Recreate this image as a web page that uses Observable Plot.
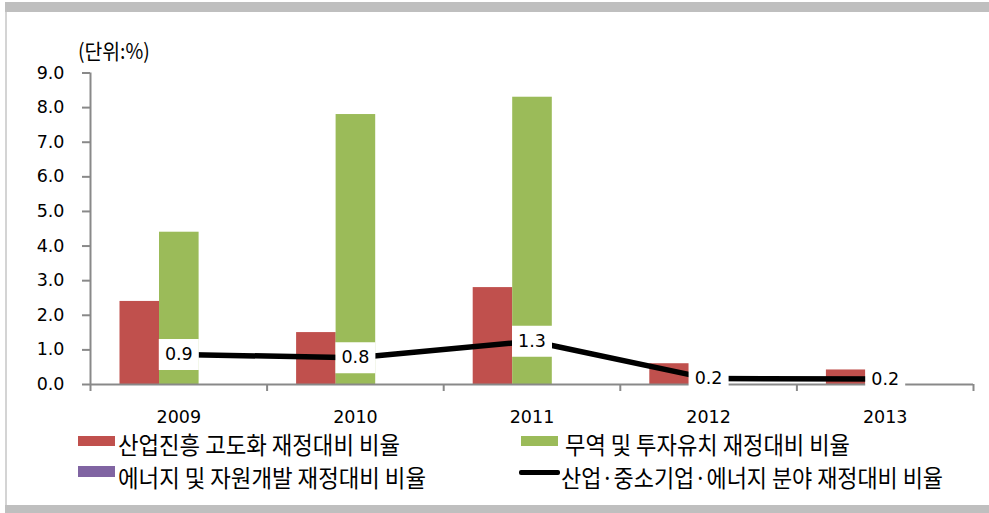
<!DOCTYPE html>
<html>
<head>
<meta charset="utf-8">
<script src="https://cdn.jsdelivr.net/npm/d3@7"></script>
<script src="https://cdn.jsdelivr.net/npm/@observablehq/plot@0.6"></script>
<style>
  body { margin: 0; background: #fff; }
  #wrap { position: relative; width: 989px; height: 513px; background: #fff; overflow: hidden; }
  .band { position: absolute; background: #bfbfbf; }
  #chart { position: absolute; left: 0; top: 0; }
  .unit { position: absolute; left: 78px; top: 35px; font: 21px "Noto Sans CJK KR", sans-serif; color: #000; white-space: nowrap; transform: scaleX(0.92); transform-origin: left center; }
  .leg { position: absolute; font: 24px "Noto Sans CJK KR", sans-serif; color: #000; white-space: nowrap; line-height: 1; transform-origin: left center; }
  .sw { position: absolute; }
</style>
</head>
<body>
<div id="wrap">
  <div class="band" style="left:5px;top:2px;width:984px;height:10px"></div>
  <div class="band" style="left:5px;top:12px;width:2px;height:493px;background:#d4d4d4"></div>
  <div class="band" style="left:5px;top:505px;width:984px;height:8px"></div>
  <div id="chart"></div>
</div>
<script>
// ---- data ----
const years = [2009, 2010, 2011, 2012, 2013];
const industryAdvance = [2.4, 1.5, 2.8, 0.6, 0.42];   // 산업진흥 고도화 재정대비 비율
const tradeInvest = [4.4, 7.8, 8.3, 0, 0];            // 무역 및 투자유치 재정대비 비율
const energyResource = [0, 0, 0, 0, 0];               // 에너지 및 자원개발 재정대비 비율
const sectorTotal = [0.87, 0.77, 1.25, 0.17, 0.16];   // 산업·중소기업·에너지 분야 재정대비 비율
const yTicks = [0, 1, 2, 3, 4, 5, 6, 7, 8, 9];
const seriesNames = [
  "산업진흥 고도화 재정대비 비율",
  "무역 및 투자유치 재정대비 비율",
  "에너지 및 자원개발 재정대비 비율",
  "산업·중소기업·에너지 분야 재정대비 비율"
];
const unitLabel = "(단위:%)";

// ---- build ----
const colors = ["#c0504d", "#9bbb59", "#8064a2", "#000000"];
const gray = "#898989";
const rows = (vals) => years.map((y, i) => ({year: y, value: vals[i]}));
const xBounds = [years[0] - 0.5, ...years.map(y => y + 0.5)];

const boxSymbol = {
  draw(ctx) { ctx.rect(-20, -15.5, 40, 31); }
};

function barMark(vals, color, il, ir) {
  return Plot.rect(rows(vals), {
    x1: d => d.year - 0.5, x2: d => d.year + 0.5,
    y1: () => 0, y2: d => d.value,
    fill: color, insetLeft: il, insetRight: ir
  });
}

const chart = Plot.plot({
  width: 989,
  height: 440,
  marginLeft: 90,
  marginRight: 16,
  marginTop: 72.5,
  marginBottom: 56,
  style: {fontFamily: "DejaVu Sans, sans-serif", color: "#000", background: "transparent"},
  x: {type: "linear", domain: [xBounds[0], xBounds[xBounds.length - 1]]},
  y: {domain: [0, 9]},
  marks: [
    barMark(industryAdvance, colors[0], 29.5, 107.5),
    barMark(tradeInvest, colors[1], 69, 68),
    barMark(energyResource, colors[2], 108, 29),
    Plot.axisY({ticks: yTicks, tickFormat: d => d.toFixed(1), tickSize: 8, tickPadding: 18,
      fontSize: 17.5, stroke: gray, strokeWidth: 2, label: null}),
    Plot.axisX({ticks: xBounds, tickFormat: () => "", tickSize: 7, stroke: gray, strokeWidth: 2, label: null}),
    Plot.axisX({ticks: years, tickFormat: d => String(d), tickSize: 0, tickPadding: 26, fontSize: 17.5, label: null}),
    Plot.ruleY([0], {stroke: gray, strokeWidth: 2}),
    Plot.ruleX([xBounds[0]], {stroke: gray, strokeWidth: 2}),
    Plot.line(rows(sectorTotal), {x: "year", y: "value", stroke: colors[3], strokeWidth: 5.5}),
    Plot.dot(rows(sectorTotal), {x: "year", y: "value", symbol: boxSymbol, r: 10, fill: "white", stroke: "none"}),
    Plot.text(rows(sectorTotal), {x: "year", y: "value", text: d => d.value.toFixed(1), fontSize: 17.5, fill: "#000"})
  ]
});
document.getElementById("chart").appendChild(chart);

const wrap = document.getElementById("wrap");
const unit = document.createElement("div");
unit.className = "unit";
unit.textContent = unitLabel;
wrap.appendChild(unit);

// legend (layout positions and target text widths)
const legendLayout = [
  {sx: 78, sy: 436, sw: 37, sh: 10, tx: 118, ty: 432, w: 282},
  {sx: 521, sy: 436, sw: 37, sh: 10, tx: 565, ty: 432, w: 285},
  {sx: 78, sy: 466, sw: 37, sh: 11, tx: 118, ty: 465, w: 308},
  {sx: 519, sy: 470, sw: 41, sh: 5, tx: 561, ty: 465, w: 382}
];
seriesNames.forEach((name, i) => {
  const L = legendLayout[i];
  const sw = document.createElement("div");
  sw.className = "sw";
  sw.style.cssText = `left:${L.sx}px;top:${L.sy}px;width:${L.sw}px;height:${L.sh}px;background:${colors[i]};`;
  if (i === 3) sw.style.borderRadius = "2px";
  wrap.appendChild(sw);
  const t = document.createElement("div");
  t.className = "leg";
  t.style.left = L.tx + "px";
  t.style.top = L.ty + "px";
  t.textContent = name;
  wrap.appendChild(t);
  const natural = t.getBoundingClientRect().width;
  if (natural > 0) t.style.transform = `scaleX(${L.w / natural})`;
});
</script>
</body>
</html>
